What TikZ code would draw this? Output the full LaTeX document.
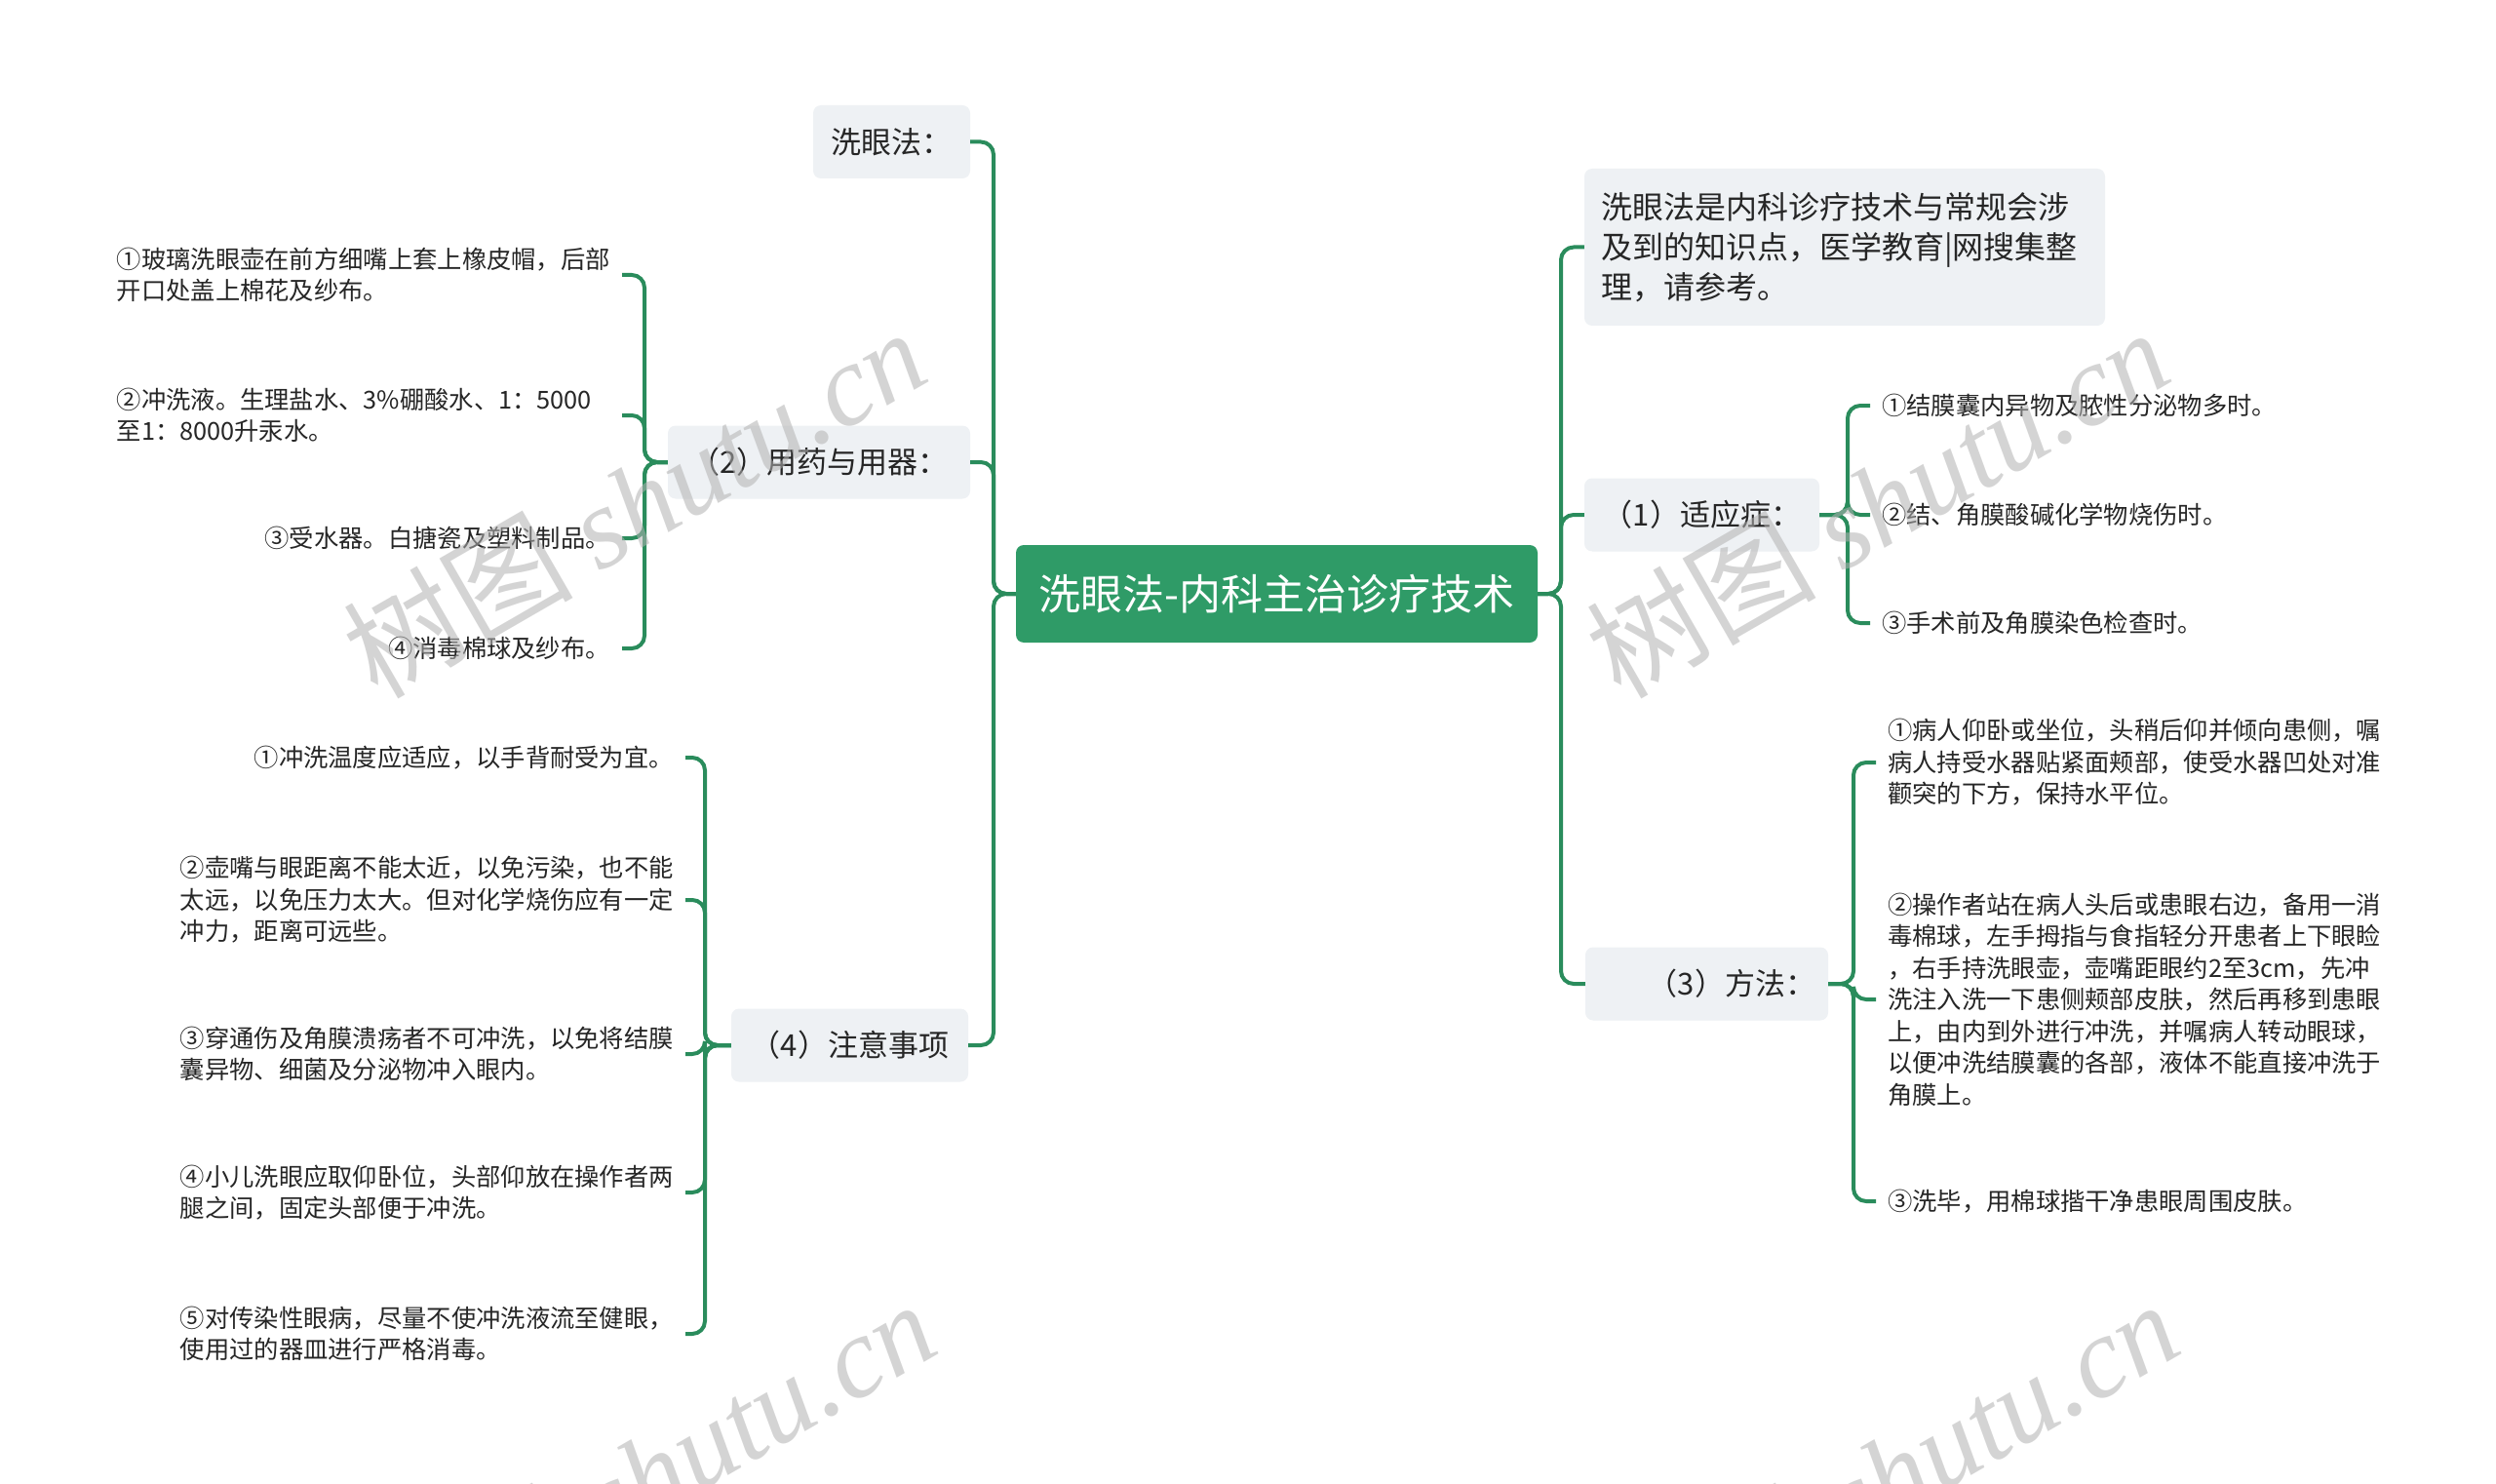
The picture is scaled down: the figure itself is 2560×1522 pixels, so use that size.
\documentclass[tikz,border=0pt]{standalone}
\usepackage{fontspec}
\setmainfont{Noto Sans CJK SC}
\newfontfamily\wmcjk{Noto Sans CJK SC}
\newfontfamily\wmlat{Liberation Serif}
\definecolor{linegreen}{HTML}{2A8C5C}
\definecolor{rootgreen}{HTML}{2F9B67}
\definecolor{boxgray}{HTML}{EEF1F4}
\definecolor{txt}{HTML}{262626}
\tikzset{
  rootbox/.style={fill=rootgreen, rounded corners=8pt, text=white, font=\fontsize{43}{50}\selectfont, minimum width=535pt, minimum height=100pt, inner sep=0pt},
  topicbox/.style={fill=boxgray, rounded corners=8pt, text=txt, font=\fontsize{31}{40}\selectfont, minimum height=75pt, inner xsep=14pt, inner ysep=0pt},
  leaftext/.style={text=txt, font=\fontsize{25.3}{32.5}\selectfont, align=left, inner xsep=12pt, inner ysep=2pt},
  leafwide/.style={leaftext, text width=506pt},
  conn/.style={draw=linegreen, line width=4pt, rounded corners=13pt},
  wmark/.style={text=black!30, opacity=.55, rotate=30, font=\fontsize{118}{124}\selectfont, inner sep=0pt}
}
\begin{document}
\begin{tikzpicture}[x=1pt, y=-1pt]
\fill[white] (0,0) rectangle (2560,1522);
\clip (0,0) rectangle (2560,1522);

% root
\node[rootbox] (root) at (1309.5,609) {洗眼法-内科主治诊疗技术};

% level-1 left
\node[topicbox, minimum width=161pt] (xyf) at (914.5,145.5) {洗眼法：};
\node[topicbox, minimum width=310pt] (yy) at (840,474) {（2）用药与用器：};
\node[topicbox, minimum width=243pt] (zy) at (871.5,1072) {（4）注意事项};

% level-1 right
\node[topicbox, minimum height=161pt, text width=500pt, align=left, inner xsep=17pt, font=\fontsize{32}{41}\selectfont] (desc) at (1892,253.5) {洗眼法是内科诊疗技术与常规会涉\\及到的知识点，医学教育|网搜集整\\理，请参考。};
\node[topicbox, minimum width=241pt] (sy) at (1745.5,528) {（1）适应症：};
\node[topicbox, text width=223pt, align=right, inner xsep=13pt] (ff) at (1750.5,1009) {（3）方法：};

% leaves of (2)
\node[leafwide, anchor=east] (y1) at (638,282) {①玻璃洗眼壶在前方细嘴上套上橡皮帽，后部\\开口处盖上棉花及纱布。};
\node[leafwide, anchor=east] (y2) at (638,426) {②冲洗液。生理盐水、3\%硼酸水、1：5000\\至1：8000升汞水。};
\node[leaftext, anchor=east] (y3) at (638,552) {③受水器。白搪瓷及塑料制品。};
\node[leaftext, anchor=east] (y4) at (638,665) {④消毒棉球及纱布。};

% leaves of (4)
\node[leaftext, anchor=east] (z1) at (703,777) {①冲洗温度应适应，以手背耐受为宜。};
\node[leafwide, anchor=east] (z2) at (703,923) {②壶嘴与眼距离不能太近，以免污染，也不能\\太远，以免压力太大。但对化学烧伤应有一定\\冲力，距离可远些。};
\node[leafwide, anchor=east] (z3) at (703,1081) {③穿通伤及角膜溃疡者不可冲洗，以免将结膜\\囊异物、细菌及分泌物冲入眼内。};
\node[leafwide, anchor=east] (z4) at (703,1223) {④小儿洗眼应取仰卧位，头部仰放在操作者两\\腿之间，固定头部便于冲洗。};
\node[leafwide, anchor=east] (z5) at (703,1368) {⑤对传染性眼病，尽量不使冲洗液流至健眼，\\使用过的器皿进行严格消毒。};

% leaves of (1)
\node[leaftext, anchor=west] (s1) at (1918,416) {①结膜囊内异物及脓性分泌物多时。};
\node[leaftext, anchor=west] (s2) at (1918,528) {②结、角膜酸碱化学物烧伤时。};
\node[leaftext, anchor=west] (s3) at (1918,639) {③手术前及角膜染色检查时。};

% leaves of (3)
\node[leafwide, anchor=west] (f1) at (1924,782) {①病人仰卧或坐位，头稍后仰并倾向患侧，嘱\\病人持受水器贴紧面颊部，使受水器凹处对准\\颧突的下方，保持水平位。};
\node[leafwide, anchor=west] (f2) at (1924,1025) {②操作者站在病人头后或患眼右边，备用一消\\毒棉球，左手拇指与食指轻分开患者上下眼睑\\，右手持洗眼壶，壶嘴距眼约2至3cm，先冲\\洗注入洗一下患侧颊部皮肤，然后再移到患眼\\上，由内到外进行冲洗，并嘱病人转动眼球，\\以便冲洗结膜囊的各部，液体不能直接冲洗于\\角膜上。};
\node[leaftext, anchor=west] (f3) at (1924,1232) {③洗毕，用棉球揩干净患眼周围皮肤。};

% connectors level 1
\draw[conn] (root.west) -- (1019,609) |- (xyf.east);
\draw[conn] (root.west) -- (1019,609) |- (yy.east);
\draw[conn] (root.west) -- (1019,609) |- (zy.east);
\draw[conn] (root.east) -- (1601,609) |- (desc.west);
\draw[conn] (root.east) -- (1601,609) |- (sy.west);
\draw[conn] (root.east) -- (1601,609) |- (ff.west);

% connectors level 2
\foreach \n in {y1,y2,y3,y4} \draw[conn] (yy.west) -- (661,474) |- (\n.east);
\foreach \n in {z1,z2,z3,z4,z5} \draw[conn] (zy.west) -- (723,1072) |- (\n.east);
\foreach \n in {s1,s2,s3} \draw[conn] (sy.east) -- (1895,528) |- (\n.west);
\foreach \n in {f1,f2,f3} \draw[conn] (ff.east) -- (1901,1009) |- (\n.west);

% watermarks
\node[wmark] (wm1) at (650,515) {{\wmcjk 树图} {\wmlat\itshape shutu.cn}};
\node[wmark] (wm2) at (1925,515) {{\wmcjk 树图} {\wmlat\itshape shutu.cn}};
\node[wmark] (wm3) at (660,1512) {{\wmcjk 树图} {\wmlat\itshape shutu.cn}};
\node[wmark] (wm4) at (1935,1512) {{\wmcjk 树图} {\wmlat\itshape shutu.cn}};
\end{tikzpicture}
\end{document}
